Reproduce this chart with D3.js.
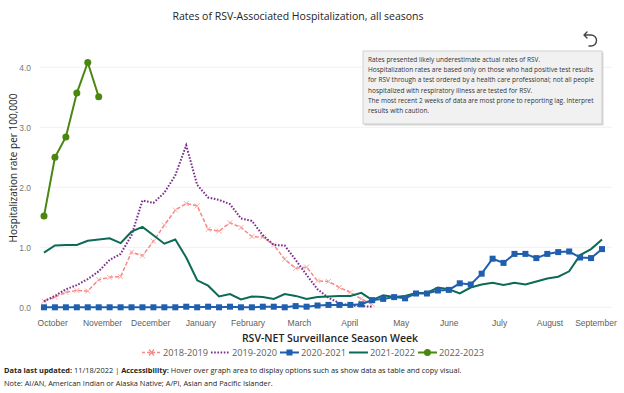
<!DOCTYPE html>
<html>
<head>
<meta charset="utf-8">
<script src="https://cdn.jsdelivr.net/npm/d3@7"></script>
<style>
  body { margin: 0; background: #fff; }
  svg { font-family: "Open Sans", "Noto Sans", sans-serif; }
</style>
</head>
<body>
<div class="chart"></div>
<script>
// Season week index 0..51 (week 40 -> week 39)
const monthLabels = ["October", "November", "December", "January", "February", "March",
                     "April", "May", "June", "July", "August", "September"];
const monthWeeks = [0.75, 5.3, 9.7, 14.3, 18.6, 23.3, 27.9, 32.6, 37.0, 41.6, 46.2, 50.4];
const yTicks = [0, 1, 2, 3, 4];

const seasons = ["2018-2019", "2019-2020", "2020-2021", "2021-2022", "2022-2023"];

const rates1819 = [0.10, 0.17, 0.25, 0.28, 0.27, 0.46, 0.50, 0.51, 0.92, 0.86, 1.10, 1.37, 1.62,
  1.73, 1.69, 1.30, 1.27, 1.41, 1.33, 1.18, 1.17, 1.04, 0.80, 0.65, 0.67, 0.44, 0.43, 0.33,
  0.25, 0.14, 0.05];
const rates1920 = [0.10, 0.19, 0.30, 0.37, 0.47, 0.60, 0.79, 0.89, 1.20, 1.78, 1.74, 1.91, 2.20,
  2.70, 2.04, 1.83, 1.79, 1.72, 1.48, 1.44, 1.20, 1.04, 1.03, 0.79, 0.54, 0.30, 0.16, 0.07,
  0.03, 0.02, 0.01];
const rates2021 = [0, 0, 0, 0, 0, 0, 0, 0, 0, 0, 0, 0, 0, 0.01, 0, 0.01, 0, 0.01, 0, 0, 0.01,
  0.01, 0, 0.02, 0.01, 0.03, 0.04, 0.04, 0.04, 0.05, 0.12, 0.14, 0.17, 0.15, 0.23, 0.23, 0.28,
  0.29, 0.40, 0.38, 0.56, 0.81, 0.74, 0.89, 0.89, 0.82, 0.89, 0.92, 0.93, 0.83, 0.82, 0.97];
const rates2122 = [0.91, 1.03, 1.04, 1.04, 1.11, 1.13, 1.15, 1.07, 1.26, 1.34, 1.20, 1.06, 1.13,
  0.83, 0.45, 0.36, 0.18, 0.22, 0.13, 0.18, 0.17, 0.14, 0.22, 0.19, 0.14, 0.17, 0.18, 0.19,
  0.19, 0.24, 0.12, 0.20, 0.17, 0.19, 0.24, 0.24, 0.33, 0.30, 0.23, 0.33, 0.38, 0.41, 0.37,
  0.41, 0.38, 0.43, 0.48, 0.51, 0.60, 0.87, 0.97, 1.13];
const rates2223 = [1.52, 2.50, 2.84, 3.57, 4.08, 3.51];

const noteLines = [
  "Rates presented likely underestimate actual rates of RSV.",
  "Hospitalization rates are based only on those who had positive test results",
  "for RSV through a test ordered by a health care professional; not all people",
  "hospitalized with respiratory illness are tested for RSV.",
  "The most recent 2 weeks of data are most prone to reporting lag. Interpret",
  "results with caution."
];

const W = 624, H = 393;
const svg = d3.select(".chart").append("svg")
  .attr("width", W).attr("height", H);

const x = d3.scaleLinear().domain([0, 51]).range([44, 602]);
const y = d3.scaleLinear().domain([0, 4]).range([307.3, 67.3]);

// title
svg.append("text")
  .attr("x", 298).attr("y", 20)
  .attr("text-anchor", "middle")
  .style("font-size", "10.5px").style("fill", "#252423")
  .text("Rates of RSV-Associated Hospitalization, all seasons");

// grid + y axis
svg.append("g").selectAll("line").data(yTicks).join("line")
  .attr("x1", 40).attr("x2", 612)
  .attr("y1", d => y(d)).attr("y2", d => y(d))
  .style("stroke", "#f0f0f0").style("stroke-width", 1);

const yAxis = svg.append("g")
  .attr("transform", "translate(34,0)")
  .call(d3.axisLeft(y).tickValues(yTicks).tickFormat(d3.format(".1f")).tickSize(0));
yAxis.select(".domain").remove();
yAxis.selectAll("text")
  .style("font-size", "8.5px").style("fill", "#777").style("font-family", "inherit");

svg.append("text")
  .attr("transform", "translate(17,168) rotate(-90)")
  .attr("text-anchor", "middle")
  .style("font-size", "10px").style("fill", "#252423").style("font-weight", "500")
  .text("Hospitalization rate per 100,000");

// x axis
const xAxis = svg.append("g")
  .attr("transform", "translate(0,317)")
  .call(d3.axisBottom(x).tickValues(monthWeeks).tickFormat((d, i) => monthLabels[i]).tickSize(0));
xAxis.select(".domain").remove();
xAxis.selectAll("text")
  .style("font-size", "8.5px").style("fill", "#605e5c").style("font-family", "inherit");

svg.append("text")
  .attr("x", 330).attr("y", 342)
  .attr("text-anchor", "middle")
  .style("font-size", "10.5px").style("fill", "#252423").style("font-weight", "600")
  .text("RSV-NET Surveillance Season Week");

// series
const line = d3.line().x((d, i) => x(i)).y(d => y(d));
const plot = svg.append("g");

plot.append("path").datum(rates1819)
  .attr("d", line).attr("fill", "none")
  .style("stroke", "#f98585").style("stroke-width", 1.5).style("stroke-dasharray", "4,2");
plot.append("g").selectAll("path").data(rates1819).join("path")
  .attr("transform", (d, i) => `translate(${x(i)},${y(d)})`)
  .attr("d", "M-2.5,-2.5L2.5,2.5M-2.5,2.5L2.5,-2.5")
  .style("stroke", "#fbaaaa").style("stroke-width", 1);

plot.append("path").datum(rates1920)
  .attr("d", line).attr("fill", "none")
  .style("stroke", "#7b2d8e").style("stroke-width", 2).style("stroke-dasharray", "1.6,1.6");

plot.append("path").datum(rates2122)
  .attr("d", line).attr("fill", "none")
  .style("stroke", "#0b6b55").style("stroke-width", 2);

plot.append("path").datum(rates2021)
  .attr("d", line).attr("fill", "none")
  .style("stroke", "#1f5fae").style("stroke-width", 2);
plot.append("g").selectAll("rect").data(rates2021).join("rect")
  .attr("x", (d, i) => x(i) - 3).attr("y", d => y(d) - 3)
  .attr("width", 6).attr("height", 6)
  .style("fill", "#1f5fae");

plot.append("path").datum(rates2223)
  .attr("d", line).attr("fill", "none")
  .style("stroke", "#4a870f").style("stroke-width", 2);
plot.append("g").selectAll("circle").data(rates2223).join("circle")
  .attr("cx", (d, i) => x(i)).attr("cy", d => y(d)).attr("r", 3.5)
  .style("fill", "#4a870f");

// legend
const legendStyles = [
  { color: "#f98585", dash: "3,2", mark: "x" },
  { color: "#7b2d8e", dash: "1.6,1.6", mark: null },
  { color: "#1f5fae", dash: null, mark: "square" },
  { color: "#0b6b55", dash: null, mark: null },
  { color: "#4a870f", dash: null, mark: "circle" }
];
const legend = svg.append("g").attr("transform", "translate(0,356)");
let lx = 142;
seasons.forEach((s, i) => {
  const st = legendStyles[i];
  const g = legend.append("g").attr("transform", `translate(${lx},0)`);
  g.append("line").attr("x1", 0).attr("x2", 19).attr("y1", -3.5).attr("y2", -3.5)
    .style("stroke", st.color).style("stroke-width", i === 0 ? 1.5 : 2)
    .style("stroke-dasharray", st.dash);
  if (st.mark === "x") g.append("path").attr("d", "M7,-6.5L12,-0.5M7,-0.5L12,-6.5")
    .style("stroke", st.color).style("stroke-width", 1.2);
  if (st.mark === "square") g.append("rect").attr("x", 6.5).attr("y", -6.5).attr("width", 6).attr("height", 6)
    .style("fill", st.color);
  if (st.mark === "circle") g.append("circle").attr("cx", 9.5).attr("cy", -3.5).attr("r", 3.5)
    .style("fill", st.color);
  const t = g.append("text").attr("x", 21).attr("y", 0)
    .style("font-size", "9.2px").style("fill", "#605e5c").text(s);
  lx += 21 + t.node().getComputedTextLength() + 3;
});

// note box
const note = svg.append("g").attr("transform", "translate(363,51)");
note.append("rect").attr("x", 1.5).attr("y", 1.5).attr("width", 239).attr("height", 73)
  .style("fill", "#d8d8d8");
note.append("rect").attr("width", 239).attr("height", 73)
  .style("fill", "#f1f1f1").style("stroke", "#c8c8c8").style("stroke-width", 0.8);
note.selectAll("text").data(noteLines).join("text")
  .attr("x", 5).attr("y", (d, i) => 11 + i * 10.2)
  .style("font-size", "6.5px").style("fill", "#333")
  .text(d => d);

// undo icon
svg.append("path")
  .attr("d", "M584,35 L591,35 A5.5,5.5 0 0 1 591,46 L589,46 M587,32 L584,35 L587,38")
  .attr("fill", "none").style("stroke", "#444").style("stroke-width", 1.4)
  .style("stroke-linecap", "round").style("stroke-linejoin", "round");

// footer
const f1 = svg.append("text").attr("x", 4).attr("y", 373)
  .style("font-size", "7.4px").style("fill", "#252423");
f1.append("tspan").style("font-weight", "bold").text("Data last updated:");
f1.append("tspan").text(" 11/18/2022 | ");
f1.append("tspan").style("font-weight", "bold").text("Accessibility:");
f1.append("tspan").text(" Hover over graph area to display options such as show data as table and copy visual.");
svg.append("text").attr("x", 4).attr("y", 386)
  .style("font-size", "7.4px").style("fill", "#252423")
  .text("Note: AI/AN, American Indian or Alaska Native; A/PI, Asian and Pacific Islander.");
</script>
</body>
</html>
